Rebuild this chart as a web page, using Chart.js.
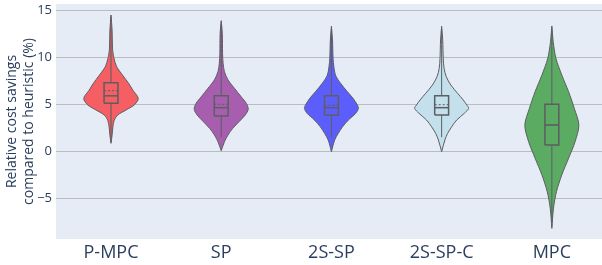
<!DOCTYPE html>
<html>
<head>
<meta charset="utf-8">
<script src="https://cdn.jsdelivr.net/npm/chart.js@4.4.1/dist/chart.umd.min.js"></script>
<style>
  html, body { margin: 0; padding: 0; background: #fff; }
  #wrap { width: 602px; height: 265px; }
</style>
</head>
<body>
<div id="wrap"><canvas id="violins"></canvas></div>
<script>
const categories = ['P-MPC', 'SP', '2S-SP', '2S-SP-C', 'MPC'];

// violin outlines: value levels (top -> bottom) and relative density (1 = widest)
const levels = [
  [14.5, 12.9, 10.8, 9.9, 9.0, 8.1, 7.2, 6.5, 5.8, 5.46, 4.9, 4.4, 3.86, 3.3, 2.6, 1.7, 0.85],
  [13.9, 12.55, 10.4, 9.36, 8.47, 7.6, 6.7, 5.8, 5.1, 4.47, 3.86, 3.15, 2.45, 1.73, 1.02, 0.06],
  [13.3, 11.84, 9.9, 9.0, 8.1, 7.23, 6.34, 5.64, 4.93, 4.57, 4.04, 3.33, 2.6, 1.9, 1.2, -0.04],
  [13.3, 11.84, 9.9, 8.83, 7.94, 7.05, 6.17, 5.46, 4.93, 4.57, 4.04, 3.33, 2.6, 1.9, 1.2, -0.04],
  [13.33, 11.66, 9.9, 8.1, 6.34, 4.57, 2.8, 1.02, -0.74, -2.5, -4.3, -6.06, -8.2]
];
const density = [
  [0, 0.04, 0.06, 0.11, 0.21, 0.43, 0.66, 0.81, 0.99, 1, 0.85, 0.56, 0.25, 0.12, 0.07, 0.04, 0],
  [0, 0.04, 0.05, 0.07, 0.12, 0.25, 0.49, 0.74, 0.93, 1, 0.89, 0.66, 0.43, 0.25, 0.12, 0],
  [0, 0.04, 0.06, 0.09, 0.15, 0.34, 0.59, 0.8, 0.96, 1, 0.9, 0.63, 0.41, 0.25, 0.12, 0],
  [0, 0.04, 0.06, 0.09, 0.17, 0.34, 0.59, 0.8, 0.93, 1, 0.84, 0.56, 0.37, 0.22, 0.12, 0],
  [0, 0.05, 0.15, 0.37, 0.62, 0.83, 1, 0.86, 0.62, 0.37, 0.17, 0.06, 0]
];

// inner box stats
const q1 = [5.1, 3.75, 3.83, 3.86, 0.67];
const median = [5.9, 4.64, 4.64, 4.64, 2.8];
const q3 = [7.3, 5.9, 5.9, 5.9, 5.0];
const means = [6.45, 5.0, 4.9, 4.96, 2.8];
const whiskerLo = [1.0, 1.5, 1.5, 1.5, -7.9];
const whiskerHi = [14.3, 13.6, 13.0, 13.0, 13.1];

const yTicks = [-5, 0, 5, 10, 15];

const FILLS = ['rgb(245,94,98)', 'rgb(168,94,175)', 'rgb(92,94,251)', 'rgb(196,224,236)', 'rgb(92,171,98)'];
const LINE = 'rgb(92,94,98)';
const VIOLIN_HALF = 0.245;
const BOX_HALF = 0.063;
const FONT = '"Open Sans", verdana, arial, sans-serif';

let datasets = [];

categories.forEach(function (c, i) {
  // violin outline: right side going down, left side coming back up
  let pts = [];
  for (let k = 0; k < levels[i].length; k++) {
    pts.push({ x: i + density[i][k] * VIOLIN_HALF, y: levels[i][k] });
  }
  for (let k = levels[i].length - 1; k >= 0; k--) {
    pts.push({ x: i - density[i][k] * VIOLIN_HALF, y: levels[i][k] });
  }
  datasets.push({
    data: pts, showLine: true, pointRadius: 0, tension: 0.3,
    fill: 'shape', backgroundColor: FILLS[i], borderColor: LINE, borderWidth: 1, order: 3
  });

  // whisker line
  datasets.push({
    data: [{ x: i, y: whiskerLo[i] }, { x: i, y: whiskerHi[i] }],
    showLine: true, pointRadius: 0, borderColor: LINE, borderWidth: 1, order: 2
  });

  // box
  datasets.push({
    data: [
      { x: i - BOX_HALF, y: q1[i] }, { x: i + BOX_HALF, y: q1[i] },
      { x: i + BOX_HALF, y: q3[i] }, { x: i - BOX_HALF, y: q3[i] },
      { x: i - BOX_HALF, y: q1[i] }
    ],
    showLine: true, pointRadius: 0, fill: 'shape', backgroundColor: FILLS[i],
    borderColor: LINE, borderWidth: 1.5, order: 1
  });

  // median
  datasets.push({
    data: [{ x: i - BOX_HALF, y: median[i] }, { x: i + BOX_HALF, y: median[i] }],
    showLine: true, pointRadius: 0, borderColor: LINE, borderWidth: 1.5, order: 0
  });

  // mean (dashed)
  datasets.push({
    data: [{ x: i - BOX_HALF, y: means[i] }, { x: i + BOX_HALF, y: means[i] }],
    showLine: true, pointRadius: 0, borderColor: LINE, borderWidth: 1, borderDash: [2, 2], order: 0
  });
});

const plotBg = {
  id: 'plotBg',
  beforeDraw(chart) {
    const a = chart.chartArea;
    const ctx = chart.ctx;
    ctx.save();
    ctx.fillStyle = '#E5ECF6';
    ctx.fillRect(a.left, a.top, a.right - a.left, a.bottom - a.top);
    ctx.restore();
  }
};

new Chart(document.getElementById('violins'), {
  type: 'scatter',
  data: { datasets: datasets },
  plugins: [plotBg],
  options: {
    responsive: true,
    maintainAspectRatio: false,
    animation: false,
    layout: { padding: { top: 4, right: 0, left: 0, bottom: 0 } },
    plugins: { legend: { display: false }, tooltip: { enabled: false } },
    scales: {
      x: {
        type: 'linear',
        min: -0.499,
        max: 4.455,
        afterBuildTicks: function (s) { s.ticks = categories.map((c, i) => ({ value: i })); },
        afterFit: function (s) { s.height = 26; s.paddingLeft = 0; s.paddingRight = 0; },
        grid: { display: false, drawTicks: false },
        border: { display: false },
        ticks: {
          padding: 3,
          maxRotation: 0,
          autoSkip: false,
          color: '#2a3f5f',
          font: { family: FONT, size: 18 },
          callback: function (v) { return categories[v]; }
        }
      },
      y: {
        min: -9.33,
        max: 15.67,
        afterBuildTicks: function (s) { s.ticks = yTicks.map(v => ({ value: v })); },
        afterFit: function (s) { s.width = 56; s.paddingTop = 0; s.paddingBottom = 0; },
        grid: { color: 'rgb(186,188,193)', lineWidth: 1, drawTicks: false },
        border: { display: false },
        ticks: {
          padding: 4,
          color: '#2a3f5f',
          font: { family: FONT, size: 13 },
          callback: function (v) { return v < 0 ? '\u2212' + Math.abs(v) : String(v); }
        },
        title: {
          display: true,
          text: ['Relative cost savings', 'compared to heuristic (%)'],
          color: '#2a3f5f',
          font: { family: FONT, size: 14 },
          padding: { top: 4, bottom: 0 }
        }
      }
    }
  }
});
</script>
</body>
</html>
